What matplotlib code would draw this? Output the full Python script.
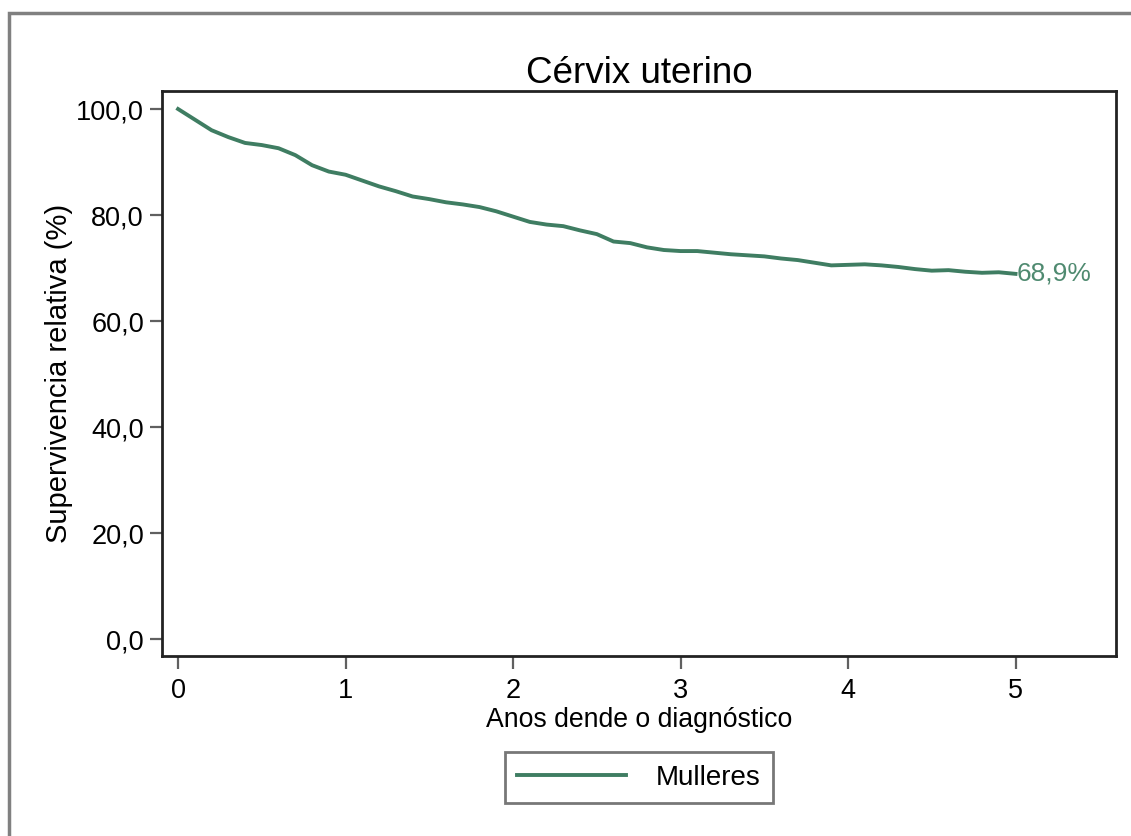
import matplotlib
matplotlib.use("Agg")
import matplotlib.pyplot as plt
from matplotlib.patches import Rectangle

plt.rcParams['font.family'] = ['Liberation Sans', 'DejaVu Sans']

# Relative survival, cervix uteri (women), read every 0.1 years
anos = [i / 10 for i in range(51)]
supervivencia = [
    100.0, 98.0, 96.0, 94.7, 93.6, 93.2, 92.6, 91.3, 89.4, 88.2,
    87.6, 86.5, 85.4, 84.5, 83.5, 83.0, 82.4, 82.0, 81.5, 80.7,
    79.7, 78.7, 78.2, 77.9, 77.1, 76.4, 75.0, 74.7, 73.9, 73.4,
    73.2, 73.2, 72.9, 72.6, 72.4, 72.2, 71.8, 71.5, 71.0, 70.5,
    70.6, 70.7, 70.5, 70.2, 69.8, 69.5, 69.6, 69.3, 69.1, 69.2,
    68.9,
]
y_ticks = [0, 20, 40, 60, 80, 100]
x_ticks = [0, 1, 2, 3, 4, 5]
serie = "Mulleres"
final_label = "68,9%"

cor = "#3f7d62"

fig = plt.figure(figsize=(11.31, 8.36), dpi=100)
W, H = 1131, 836

# outer grey frame
fig.patches.append(Rectangle((9 / W, -0.01), 1.2, 1 - 13 / H + 0.01,
                             transform=fig.transFigure, fill=False,
                             edgecolor="#808080", linewidth=2.5))

ax = fig.add_axes([162 / W, 1 - 656 / H, (1116 - 162) / W, (656 - 91) / H])
ax.plot(anos, supervivencia, color=cor, linewidth=2.8, label=serie)
ax.text(anos[-1] + 0.005, supervivencia[-1], final_label, color="#4f8a70",
        fontsize=19, va="center", ha="left")

ax.set_xlim(-0.096, 5.6)
ax.set_ylim(-3.2, 103.4)
ax.set_xticks(x_ticks)
ax.set_xticklabels([str(x) for x in x_ticks])
ax.set_yticks(y_ticks)
ax.set_yticklabels([f"{v:.1f}".replace(".", ",") for v in y_ticks])
ax.tick_params(axis="both", labelsize=19.5, length=9, width=1.6,
               color="#606060")
ax.tick_params(axis="x", pad=7)
ax.tick_params(axis="y", pad=4)

for s in ax.spines.values():
    s.set_linewidth(2)
    s.set_color("#222222")

ax.set_title("Cérvix uterino", fontsize=26.5, pad=6)
ax.set_xlabel("Anos dende o diagnóstico", fontsize=19.2, labelpad=2)
ax.set_ylabel("Supervivencia relativa (%)", fontsize=21, labelpad=2)

leg = ax.legend(loc="upper center", bbox_to_anchor=(0.5, -0.170),
                fontsize=20, frameon=True, fancybox=False,
                handlelength=3.9, handletextpad=1.1, borderpad=0.45,
                borderaxespad=0)
leg.get_frame().set_edgecolor("#555555")
leg.get_frame().set_linewidth(2)

fig.savefig("out.png", dpi=100)
